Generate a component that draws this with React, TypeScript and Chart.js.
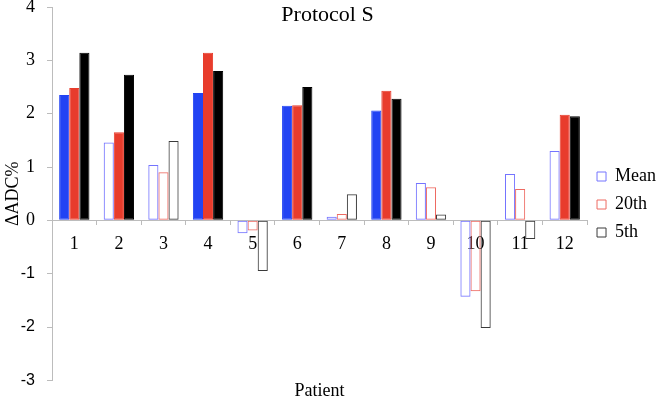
import React, { useEffect, useRef } from "react";
import { Chart, registerables } from "chart.js";

Chart.register(...registerables);

const patients = ["1", "2", "3", "4", "5", "6", "7", "8", "9", "10", "11", "12"];
const meanValues = [2.35, 1.46, 1.04, 2.39, -0.24, 2.15, 0.07, 2.06, 0.7, -1.43, 0.87, 1.3];
const p20Values = [2.48, 1.65, 0.9, 3.14, -0.19, 2.16, 0.12, 2.43, 0.62, -1.33, 0.59, 1.98];
const p5Values = [3.14, 2.73, 1.49, 2.8, -0.95, 2.5, 0.49, 2.28, 0.11, -2.02, -0.35, 1.95];
// 1 = filled bar, 0 = hollow bar
const meanFilled = [1, 0, 0, 1, 0, 1, 0, 1, 0, 0, 0, 0];
const p20Filled = [1, 1, 0, 1, 0, 1, 0, 1, 0, 0, 0, 1];
const p5Filled = [1, 1, 0, 1, 0, 1, 0, 1, 0, 0, 0, 1];
const seriesNames = ["Mean", "20th", "5th"];
const yMin = -3;
const yMax = 4;
const yStep = 1;

const SERIF = "Liberation Serif";
const SANS = "Liberation Sans";

const solidColors = ["#2243f3", "#e83c2c", "#000000"];
const outlineColors = ["#7474ff", "#ee6a62", "#3a3a3a"];

function makeDataset(label: string, values: number[], filled: number[], idx: number) {
  return {
    label,
    data: values,
    backgroundColor: filled.map((f) => (f ? solidColors[idx] : "rgba(255,255,255,0)")),
    borderColor: filled.map((f) => (f ? solidColors[idx] : outlineColors[idx])),
    borderWidth: 1,
    borderSkipped: false as const,
    categoryPercentage: 0.68,
    barPercentage: 1.0,
  };
}

const headerPlugin = {
  id: "headerTitle",
  afterDraw(chart: any) {
    const { ctx, chartArea } = chart;
    ctx.save();
    ctx.font = `22px "${SERIF}"`;
    ctx.fillStyle = "#000";
    ctx.textAlign = "center";
    ctx.textBaseline = "middle";
    ctx.fillText("Protocol S", (chartArea.left + chartArea.right) / 2 + 8, 15);
    ctx.restore();
  },
};

export default function App() {
  const ref = useRef<HTMLCanvasElement | null>(null);

  useEffect(() => {
    if (!ref.current) return;
    Chart.defaults.font.family = SERIF;
    const chart = new Chart(ref.current, {
      type: "bar",
      data: {
        labels: patients,
        datasets: [
          makeDataset(seriesNames[0], meanValues, meanFilled, 0),
          makeDataset(seriesNames[1], p20Values, p20Filled, 1),
          makeDataset(seriesNames[2], p5Values, p5Filled, 2),
        ] as any,
      },
      options: {
        animation: false,
        responsive: false,
        devicePixelRatio: 1,
        layout: { padding: { top: 7, right: -4, left: 0, bottom: 0 } },
        scales: {
          x: {
            type: "category",
            position: { y: 0 } as any,
            offset: true,
            grid: {
              offset: true,
              drawOnChartArea: false,
              tickLength: 4,
              color: "#bcbcbc",
            },
            border: { color: "#bcbcbc" },
            ticks: {
              color: "#000",
              font: { family: SERIF, size: 18 },
              padding: 9,
              maxRotation: 0,
              autoSkip: false,
            },
          },
          y: {
            min: yMin,
            max: yMax,
            grid: {
              drawOnChartArea: false,
              tickLength: 5,
              color: "#bcbcbc",
            },
            border: { color: "#bcbcbc" },
            ticks: {
              stepSize: yStep,
              color: "#000",
              padding: 12,
              font: (c: any) =>
                c.tick && c.tick.value < 0
                  ? { family: SANS, size: 16 }
                  : { family: SERIF, size: 18 },
            },
            title: {
              display: true,
              text: "ΔADC%",
              color: "#000",
              font: { family: SERIF, size: 18 },
              padding: { top: 2, bottom: 0 },
            },
            afterFit: (scale: any) => {
              scale.width = 52;
              scale.paddingTop = 0;
              scale.paddingBottom = 0;
            },
          },
        },
        plugins: {
          legend: {
            position: "right",
            align: "center",
            labels: {
              boxWidth: 9,
              boxHeight: 9,
              padding: 10,
              color: "#000",
              font: { family: SERIF, size: 18 },
              generateLabels: () =>
                seriesNames.map((name, i) => ({
                  text: name,
                  fillStyle: "rgba(255,255,255,0)",
                  strokeStyle: outlineColors[i],
                  lineWidth: 1,
                  datasetIndex: i,
                  hidden: false,
                })),
            },
          },
          title: {
            display: true,
            position: "bottom",
            text: "Patient",
            color: "#000",
            fullSize: false,
            font: { family: SERIF, size: 18, weight: "normal" },
            padding: { top: 0, bottom: 0 },
          },
          tooltip: { enabled: false },
        },
      },
      plugins: [headerPlugin],
    });
    return () => chart.destroy();
  }, []);

  return (
    <div style={{ position: "absolute", left: 0, top: 0, width: 662, height: 402, background: "#fff" }}>
      <canvas ref={ref} width={662} height={402} style={{ width: 662, height: 402, display: "block" }} />
    </div>
  );
}
